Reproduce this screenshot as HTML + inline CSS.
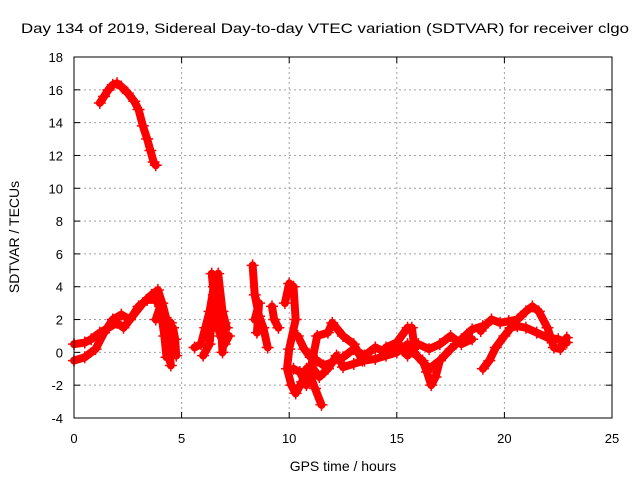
<!DOCTYPE html>
<html><head><meta charset="utf-8"><style>
html,body{margin:0;padding:0;background:#fff}
svg{display:block;font-family:"Liberation Sans",Arial,sans-serif}
</style></head><body>
<svg id="chart" width="640" height="480" viewBox="0 0 640 480">
<text x="325" y="33" text-anchor="middle" font-size="14" textLength="608" lengthAdjust="spacingAndGlyphs">Day 134 of 2019, Sidereal Day-to-day VTEC variation (SDTVAR) for receiver clgo</text>
<g id="grid"></g>
<g id="series"></g>
<rect x="74" y="57" width="538" height="361" fill="none" stroke="#000" stroke-width="1"/>
<g id="ticks"></g>
<text x="343" y="471" text-anchor="middle" font-size="14">GPS time / hours</text>
<text transform="translate(19,237) rotate(-90)" text-anchor="middle" font-size="14">SDTVAR / TECUs</text>
</svg>
<script>
const xTicks=[0,5,10,15,20,25];
const yTicks=[-4,-2,0,2,4,6,8,10,12,14,16,18];
const traceTop=[[1.2,15.2],[1.4,15.6],[1.6,16.0],[1.8,16.3],[2.0,16.4],[2.2,16.2],[2.5,15.8],[2.8,15.3],[3.0,14.8],[3.2,13.8],[3.4,13.0],[3.55,12.3],[3.7,11.6],[3.8,11.4]];
const traceA=[[0,0.5],[0.5,0.6],[0.8,0.8],[1.2,1.2],[1.6,1.5],[2.0,1.8],[2.3,1.5],[2.6,2.0],[3.0,2.8],[3.4,3.2],[3.8,3.2],[4.1,2.5],[4.3,1.5],[4.5,0.5],[4.6,0]];
const traceB=[[0,-0.5],[0.5,-0.3],[1.0,0.2],[1.4,1.2],[1.8,2.0],[2.2,2.3],[2.6,2.0],[3.2,3.0],[3.6,3.5],[3.9,3.8],[4.1,3.0],[4.3,2.0],[4.4,0.5],[4.5,-0.8]];
const traceB2=[[4.6,1.5],[4.7,0.8],[4.75,-0.2]];
const traceB3=[[3.8,2.0],[4.0,2.8],[4.2,1.0],[4.3,-0.3],[4.5,1.8]];
const traceC=[[5.6,0.3],[5.9,0.5],[6.1,1.5],[6.3,2.5],[6.5,4.0],[6.6,3.0],[6.8,1.0],[7.0,0.5],[7.2,1.0]];
const traceC2=[[6.0,-0.2],[6.3,0.5],[6.5,3.5],[6.4,4.8]];
const traceC3=[[6.7,4.8],[6.9,2.5],[7.1,1.5]];
const traceC4=[[6.2,1.0],[6.4,2.0],[6.6,1.5],[6.8,2.5],[6.9,0.0],[7.0,1.8]];
const traceD=[[8.3,5.3],[8.4,3.5],[8.6,2.2],[8.8,1.5],[9.0,0.3]];
const traceD2=[[9.2,2.8],[9.3,2.0],[9.5,1.5]];
const traceD3=[[8.5,1.2],[8.6,3.0],[8.4,2.0]];
const traceE=[[9.8,3.0],[10.0,4.2],[10.2,4.0],[10.3,2.0],[10.0,0.2],[9.9,-1.0],[10.1,-2.0],[10.3,-2.5],[10.6,-1.8],[10.8,-1.0],[11.0,-1.5],[11.2,-2.2],[11.5,-3.2]];
const traceE2=[[10.2,-1.0],[10.5,-1.2],[10.8,-2.0],[11.0,-0.8],[11.4,-1.5],[11.8,-1.0],[12.2,-0.2]];
const traceF=[[10.4,1.0],[10.7,0.2],[11.0,-0.3],[11.3,-0.5],[11.6,-0.8],[12.0,-0.6],[12.3,-0.3],[12.5,-0.9],[13.0,-0.7],[13.5,-0.5],[14.0,-0.4],[14.5,-0.2],[15.0,0],[15.5,0.5],[16.0,-0.3],[16.5,-1.0],[17.0,-0.5],[17.5,0.2],[18.0,0.8],[18.5,1.4],[19.0,1.6]];
const traceF2=[[12.5,-0.3],[13.0,0.2],[13.5,-0.2],[14.0,0.3],[14.5,0.0],[15.0,0.5],[15.5,-0.2],[16.0,0.5],[16.5,0.2],[17.0,0.5],[17.5,1.0],[18.0,0.5],[18.5,0.8]];
const traceG=[[11.0,-1.0],[11.3,1.0],[11.8,1.2],[12.0,1.8],[12.5,1.0],[13.0,0.5],[13.4,-0.5]];
const traceH=[[14.5,0.3],[15.0,0.6],[15.5,1.5],[15.7,1.5],[15.8,0.5]];
const traceI=[[16.2,-0.5],[16.4,-1.2],[16.6,-2.0],[16.8,-1.5],[17.0,-0.5]];
const traceJ=[[19.0,-1.0],[19.3,-0.5],[19.6,0.3],[20.0,1.0],[20.3,1.5],[20.6,1.6],[21.0,1.5],[21.5,1.2],[22.0,0.9],[22.5,0.8],[22.9,0.6]];
const traceK=[[18.9,1.3],[19.0,1.5],[19.4,2.0],[19.8,1.8],[20.2,1.9],[20.6,2.0],[21.0,2.5],[21.3,2.8],[21.6,2.5],[22.0,1.5],[22.3,0.3],[22.6,0.2],[22.9,0.9]];
const traces=[traceTop,traceA,traceB,traceB2,traceB3,traceC,traceC2,traceC3,traceC4,traceD,traceD2,traceD3,traceE,traceE2,traceF,traceF2,traceG,traceH,traceI,traceJ,traceK];

const X=t=>74+t*(538/25);
const Y=v=>418-(v+4)*(361/22);
const NS='http://www.w3.org/2000/svg';
function mk(tag,attrs,parent){const e=document.createElementNS(NS,tag);for(const k in attrs)e.setAttribute(k,attrs[k]);parent.appendChild(e);return e;}
const grid=document.getElementById('grid'),ticks=document.getElementById('ticks'),series=document.getElementById('series');
xTicks.forEach(t=>{
  const x=X(t);
  if(t>0&&t<25){const g=mk('line',{x1:x,y1:57,x2:x,y2:418,stroke:'#a0a0a0','stroke-dasharray':'2,3'},grid);
  
  }
  mk('line',{x1:x,y1:418,x2:x,y2:412,stroke:'#000'},ticks);
  mk('line',{x1:x,y1:57,x2:x,y2:63,stroke:'#000'},ticks);
  const l=mk('text',{x:x,y:443,'text-anchor':'middle','font-size':'13'},ticks);
  l.textContent=t;
  
  
});
yTicks.forEach(v=>{
  const y=Y(v);
  if(v>-4&&v<18){const g=mk('line',{x1:74,y1:y,x2:612,y2:y,stroke:'#a0a0a0','stroke-dasharray':'2,3'},grid);
  
  }
  mk('line',{x1:74,y1:y,x2:80,y2:y,stroke:'#000'},ticks);
  mk('line',{x1:612,y1:y,x2:606,y2:y,stroke:'#000'},ticks);
  const l=mk('text',{x:63,y:y+5,'text-anchor':'end','font-size':'13'},ticks);
  l.textContent=v;
  
  
});
traces.forEach(tr=>{
  const p=mk('polyline',{points:tr.map(d=>X(d[0])+','+Y(d[1])).join(' '),fill:'none',stroke:'#ff0000','stroke-width':'8','stroke-linejoin':'round','stroke-linecap':'round'},series);
  
  
  tr.forEach(d=>{
    const x=X(d[0]),y=Y(d[1]);
    const m=mk('path',{d:`M${x-6},${y}h12M${x},${y-6}v12`,stroke:'#ff0000','stroke-width':'1.5'},series);
    
    
  });
});
</script>
</body></html>
